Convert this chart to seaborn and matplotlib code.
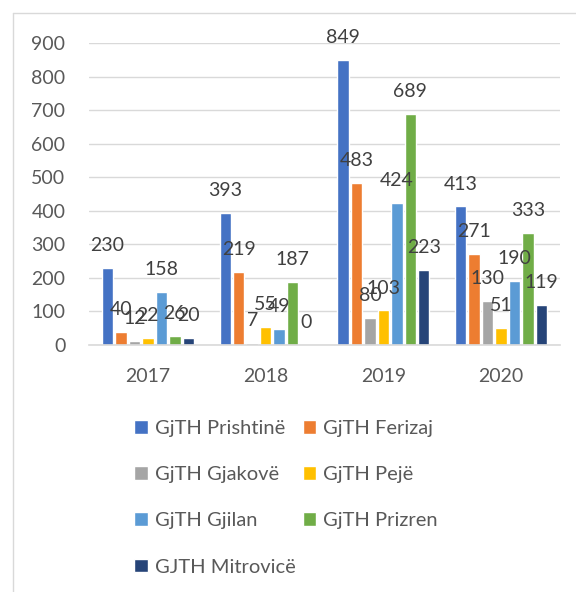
import pandas as pd
import matplotlib.pyplot as plt
import seaborn as sns
from matplotlib.lines import Line2D

# ---------------------------------------------------------------------------
# Data
# ---------------------------------------------------------------------------

years = ["2017", "2018", "2019", "2020"]
courts = ["GjTH Prishtinë", "GjTH Ferizaj", "GjTH Gjakovë", "GjTH Pejë",
          "GjTH Gjilan", "GjTH Prizren", "GJTH Mitrovicë"]

prishtine = [230, 393, 849, 413]
ferizaj = [40, 219, 483, 271]
gjakove = [12, 7, 80, 130]
peje = [22, 55, 103, 51]
gjilan = [158, 49, 424, 190]
prizren = [26, 187, 689, 333]
mitrovice = [20, 0, 223, 119]

colors = ["#4472C4", "#ED7D31", "#A5A5A5", "#FFC000",
          "#5B9BD5", "#70AD47", "#264478"]

series = [prishtine, ferizaj, gjakove, peje, gjilan, prizren, mitrovice]
df = pd.DataFrame(
    [(court, year, v) for court, vals in zip(courts, series) for year, v in zip(years, vals)],
    columns=["court", "year", "value"],
)

# ---------------------------------------------------------------------------
# Style
# ---------------------------------------------------------------------------

sns.set_theme(style="white")
plt.rcParams["font.family"] = ["Lato", "DejaVu Sans"]

fig = plt.figure(figsize=(5.76, 5.92), dpi=100)
ax = fig.add_axes([89 / 576, 1 - 345 / 592, (560 - 89) / 576, (345 - 43) / 592])

sns.barplot(
    data=df, x="year", y="value", hue="court",
    order=years, hue_order=courts, palette=colors,
    width=0.8, gap=0.15, saturation=1, errorbar=None, ax=ax,
)

# data labels above each bar
for cont in ax.containers:
    ax.bar_label(cont, padding=10, fontsize=14, color="#404040")

ax.set_ylim(0, 900)
ax.set_xlim(-0.5, 3.5)
ax.set_yticks(range(0, 901, 100))
ax.set_xlabel("")
ax.set_ylabel("")

# gridlines & spines
ax.yaxis.grid(True, color="#d9d9d9", linewidth=1)
ax.set_axisbelow(True)
for s in ["top", "right", "left"]:
    ax.spines[s].set_visible(False)
ax.spines["bottom"].set_color("#d9d9d9")
ax.spines["bottom"].set_linewidth(1.2)

ax.tick_params(axis="y", length=0, pad=17, labelsize=14, labelcolor="#595959")
ax.tick_params(axis="x", which="major", length=0, pad=16.5, labelsize=14, labelcolor="#595959")
ax.set_xticks([-0.5, 0.5, 1.5, 2.5, 3.5], minor=True)
ax.tick_params(axis="x", which="minor", length=5, width=1.2, color="#d9d9d9", direction="out")

# legend below the chart, 2 columns filled row by row
handles, labels = ax.get_legend_handles_labels()
ax.get_legend().remove()
order = [0, 2, 4, 6, 1, 3, 5]
ax.legend(
    [handles[i] for i in order], [labels[i] for i in order],
    loc="upper left",
    bbox_to_anchor=(134 / 576, 1 - 420 / 592), bbox_transform=fig.transFigure,
    ncol=2, frameon=False, fontsize=14.5, labelcolor="#595959",
    handlelength=0.68, handleheight=0.68, handletextpad=0.35,
    columnspacing=0.35, labelspacing=1.45, borderpad=0, borderaxespad=0,
)

# light frame around the chart
fig.add_artist(Line2D([13 / 576, 13 / 576], [0, 1 - 13 / 592], transform=fig.transFigure,
                      color="#d9d9d9", lw=1))
fig.add_artist(Line2D([13 / 576, 1], [1 - 13 / 592, 1 - 13 / 592], transform=fig.transFigure,
                      color="#d9d9d9", lw=1))

fig.savefig("out.png", dpi=100)
